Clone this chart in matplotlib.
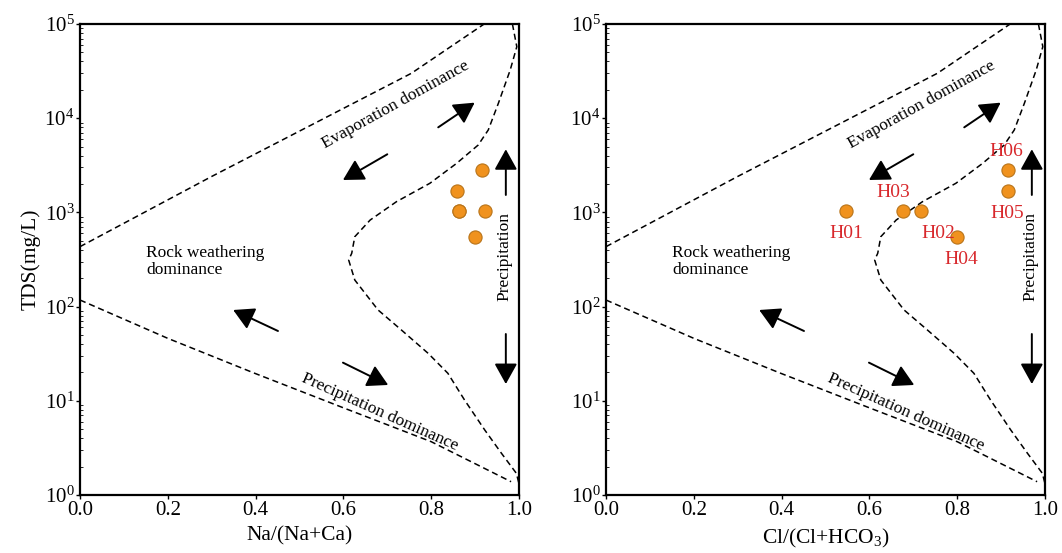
import matplotlib
matplotlib.use('Agg')
import matplotlib.pyplot as plt
import numpy as np

plt.rcParams['font.family'] = ['Liberation Serif', 'DejaVu Serif']
plt.rcParams['mathtext.fontset'] = 'custom'
plt.rcParams['mathtext.rm'] = 'Liberation Serif'
plt.rcParams['mathtext.it'] = 'Liberation Serif:italic'

# sample data
samples = ['H01', 'H02', 'H03', 'H04', 'H05', 'H06']
tds = [1040, 1040, 1040, 550, 1690, 2820]
na_ratio = [0.863, 0.922, 0.863, 0.899, 0.859, 0.916]
cl_ratio = [0.547, 0.718, 0.677, 0.800, 0.915, 0.915]

# Gibbs boundaries (log10 TDS)
upper_x = [0.0, 0.299, 0.527, 0.755, 0.914, 0.93]
upper_y = [2.636, 3.379, 3.928, 4.477, 4.979, 5.03]
lower_x = [0.0, 0.2, 0.398, 0.603, 0.800, 0.982]
lower_y = [2.070, 1.663, 1.292, 0.920, 0.566, 0.141]
curve_x = [0.985, 0.995, 0.980, 0.953, 0.930, 0.907, 0.858, 0.797, 0.721, 0.661, 0.626,
           0.619, 0.612, 0.626, 0.679, 0.732, 0.793, 0.838, 0.876, 0.922, 0.960, 0.994, 1.0]
curve_y = [5.0, 4.759, 4.512, 4.158, 3.875, 3.715, 3.521, 3.309, 3.114, 2.919, 2.742,
           2.566, 2.495, 2.282, 1.964, 1.752, 1.504, 1.292, 1.008, 0.690, 0.443, 0.230, 0.12]

# arrows (start, end) as (x, log10 y)
arrows = [((0.816, 3.903), (0.899, 4.165)),
          ((0.700, 3.617), (0.599, 3.344)),
          ((0.451, 1.741), (0.349, 1.964)),
          ((0.599, 1.405), (0.702, 1.168)),
          ((0.970, 3.185), (0.970, 3.670)),
          ((0.970, 1.709), (0.970, 1.178))]

label_offsets = {'H01': (0, -16), 'H02': (12, -16), 'H03': (-7, 13),
                 'H04': (3, -16), 'H05': (0, -16), 'H06': (-1, 13)}

fig = plt.figure(figsize=(10.62, 5.53), dpi=100)
ax1 = fig.add_axes([0.0753, 0.1049, 0.4134, 0.8517])
ax2 = fig.add_axes([0.5706, 0.1049, 0.4134, 0.8517])

for ax, xs, xlabel in [(ax1, na_ratio, 'Na/(Na+Ca)'), (ax2, cl_ratio, 'Cl/(Cl+HCO$_3$)')]:
    ax.set_yscale('log')
    ax.set_xlim(0, 1)
    ax.set_ylim(1, 1e5)
    ax.plot(upper_x, 10 ** np.array(upper_y), 'k--', lw=1.1, dashes=(4, 2.5))
    ax.plot(lower_x, 10 ** np.array(lower_y), 'k--', lw=1.1, dashes=(4, 2.5))
    ax.plot(curve_x, 10 ** np.array(curve_y), 'k--', lw=1.1, dashes=(4, 2.5))
    for (x0, y0), (x1, y1) in arrows:
        ax.annotate('', xy=(x1, 10 ** y1), xytext=(x0, 10 ** y0),
                    arrowprops=dict(arrowstyle='-|>,head_length=0.45,head_width=0.25',
                                    mutation_scale=28, lw=1.4,
                                    color='black', shrinkA=0, shrinkB=0))
    ax.scatter(xs, tds, s=90, color='#F0921E', edgecolor='#B8741A', linewidth=0.8, zorder=5)
    ax.text(0.720, 10 ** 4.14, 'Evaporation dominance', rotation=29, fontsize=12.5,
            ha='center', va='center')
    ax.text(0.151, 10 ** 2.48, 'Rock weathering\ndominance', fontsize=12.5,
            ha='left', va='center', linespacing=1.05)
    ax.text(0.683, 10 ** 0.884, 'Precipitation dominance', rotation=-24, fontsize=12.5,
            ha='center', va='center')
    ax.text(0.967, 10 ** 2.53, 'Precipitation', rotation=90, fontsize=12.5,
            ha='center', va='center')
    ax.set_xticks([0, 0.2, 0.4, 0.6, 0.8, 1.0])
    ax.set_xticklabels(['0.0', '0.2', '0.4', '0.6', '0.8', '1.0'])
    ax.tick_params(which='major', direction='out', length=3, width=1, labelsize=15, pad=1)
    ax.tick_params(which='minor', direction='in', length=2, width=0.6)
    ax.set_xlabel(xlabel, fontsize=15.5, labelpad=5)
    for sp in ax.spines.values():
        sp.set_linewidth(1.6)

ax1.set_ylabel('TDS(mg/L)', fontsize=15.5, labelpad=3)

for name, x, y in zip(samples, cl_ratio, tds):
    ax2.annotate(name, (x, y), xytext=label_offsets[name], textcoords='offset points',
                 ha='center', va='center', color='#D8282C', fontsize=14, zorder=6)

fig.savefig('out.png', dpi=100)
